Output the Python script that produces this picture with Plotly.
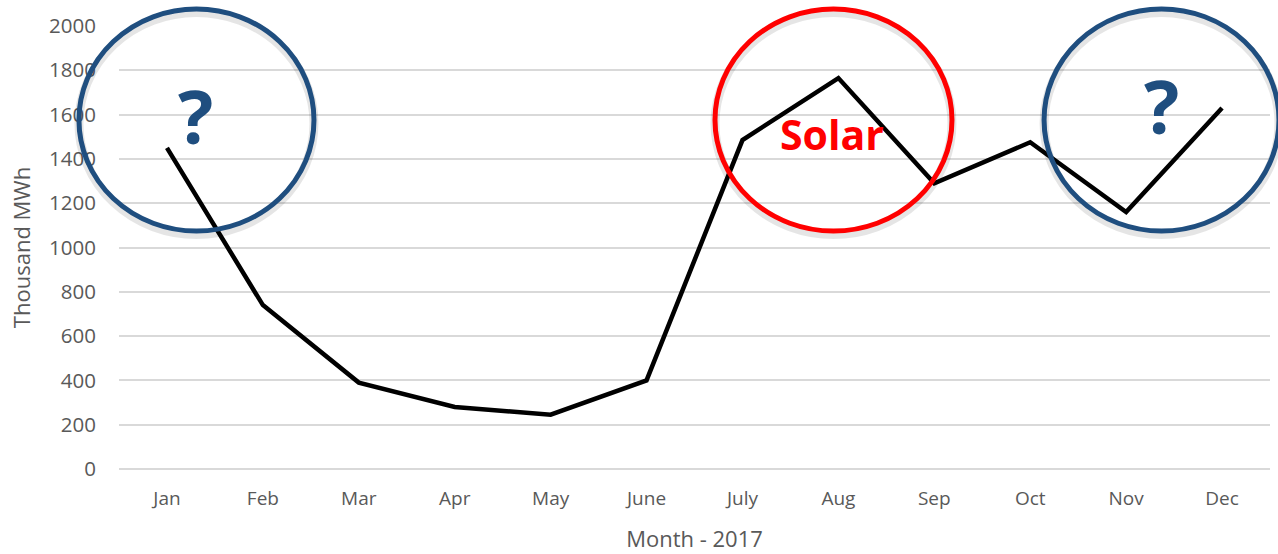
import plotly.graph_objects as go

months = ["Jan", "Feb", "Mar", "Apr", "May", "June", "July", "Aug", "Sep", "Oct", "Nov", "Dec"]
values = [1450, 740, 390, 280, 245, 400, 1485, 1765, 1290, 1475, 1160, 1630]
y_ticks = [0, 200, 400, 600, 800, 1000, 1200, 1400, 1600, 1800, 2000]

fig = go.Figure()
fig.add_trace(go.Scatter(x=months, y=values, mode="lines",
                         line=dict(color="black", width=4.5), showlegend=False))

font_fam = "'Open Sans', sans-serif"
blue = "#1F4E7F"
red = "#FF0000"

# highlight circles (paper coordinates so they are not clipped)
circles = [(-0.0348, 0.1694, blue), (0.5178, 0.7237, red), (0.8037, 1.0078, blue)]
for x0, x1, c in circles:
    fig.add_shape(type="circle", xref="paper", yref="paper", x0=x0, x1=x1,
                  y0=0.5372 - 0.008, y1=1.0384 - 0.008,
                  line=dict(color="rgba(0,0,0,0.10)", width=9), layer="above")
    fig.add_shape(type="circle", xref="paper", yref="paper", x0=x0, x1=x1,
                  y0=0.5372, y1=1.0384,
                  line=dict(color=c, width=5), layer="above")

fig.add_annotation(x=0.30, y=1598, xref="x", yref="y", text="<b>?</b>", showarrow=False,
                   font=dict(family=font_fam, size=74, color=blue))
fig.add_annotation(x=10.37, y=1639, xref="x", yref="y", text="<b>?</b>", showarrow=False,
                   font=dict(family=font_fam, size=74, color=blue))
fig.add_annotation(x=6.93, y=1512, xref="x", yref="y", text="<b>Solar</b>", showarrow=False,
                   font=dict(family=font_fam, size=41, color=red))

fig.update_layout(
    width=1278, height=554,
    margin=dict(l=119, r=8, t=26, b=85, autoexpand=False),
    paper_bgcolor="white", plot_bgcolor="white",
    font=dict(family=font_fam, size=19, color="#595959"),
    xaxis=dict(title=dict(text="Month - 2017", font=dict(size=22, color="#595959"), standoff=21),
               showgrid=False, showline=False, ticks="", tickfont=dict(size=19),
               range=[-0.5, 11.5], ticklabelstandoff=16, automargin=False),
    yaxis=dict(title=dict(text="Thousand MWh", font=dict(size=22, color="#595959"), standoff=12),
               range=[0, 2000], tickvals=y_ticks, showgrid=True, gridcolor="#D9D9D9",
               gridwidth=2, zeroline=True, zerolinecolor="#D9D9D9", zerolinewidth=2,
               showline=False, ticks="", tickfont=dict(size=20.5), ticklabelstandoff=22,
               automargin=False),
)

fig.write_html("out.html", config={"displayModeBar": False},
               post_script="document.body.style.margin='0';document.body.style.overflow='hidden';")
